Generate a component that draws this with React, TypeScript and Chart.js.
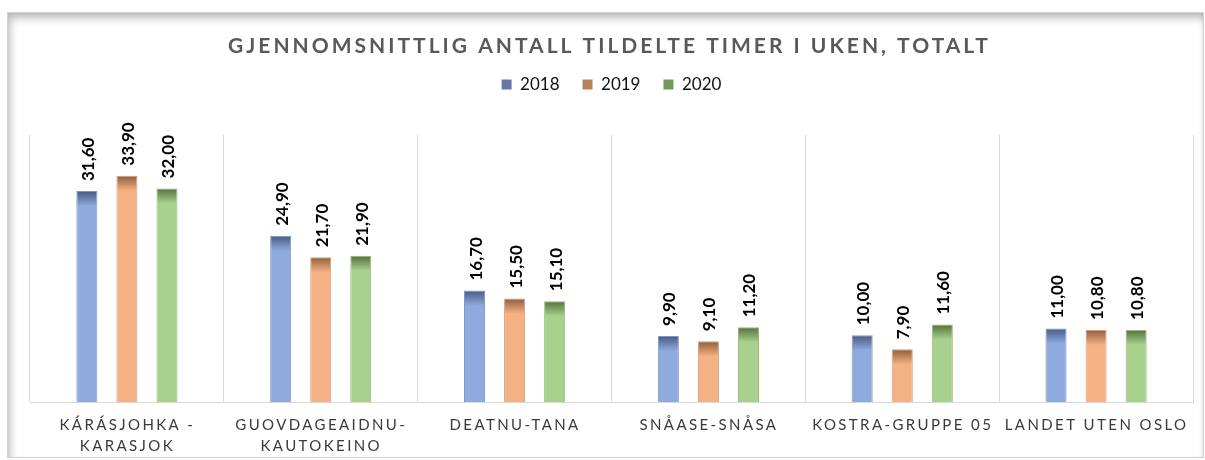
import { useEffect, useRef } from 'react';
import { Chart, registerables } from 'chart.js';

Chart.register(...registerables);

const TITLE = 'GJENNOMSNITTLIG ANTALL TILDELTE TIMER I UKEN, TOTALT';
const categories: string[][] = [
  ['KÁRÁSJOHKA -', 'KARASJOK'],
  ['GUOVDAGEAIDNU-', 'KAUTOKEINO'],
  ['DEATNU-TANA'],
  ['SNÅASE-SNÅSA'],
  ['KOSTRA-GRUPPE 05'],
  ['LANDET UTEN OSLO'],
];
const seriesNames = ['2018', '2019', '2020'];
const values2018 = [31.6, 24.9, 16.7, 9.9, 10.0, 11.0];
const values2019 = [33.9, 21.7, 15.5, 9.1, 7.9, 10.8];
const values2020 = [32.0, 21.9, 15.1, 11.2, 11.6, 10.8];
const yMin = 0;
const yMax = 40;

const bodyColors = ['#8FAADC', '#F4B183', '#A9D18E'];
const topColors = ['#485A82', '#8F5C3D', '#52703C'];
const edgeColors = ['#7E97C4', '#D89E74', '#93B97A'];
const legendColors = ['#6479A6', '#B9805A', '#739A5C'];

const FONT = 'Lato, "Open Sans", sans-serif';

function gradientFor(i: number) {
  return (c: any) => {
    const chart = c.chart;
    if (!chart.chartArea || c.type !== 'data') return bodyColors[i];
    const y = chart.scales.y.getPixelForValue(c.raw);
    const g = chart.ctx.createLinearGradient(0, y, 0, y + 15);
    g.addColorStop(0, topColors[i]);
    g.addColorStop(1, bodyColors[i]);
    return g;
  };
}

const decorPlugin = {
  id: 'decor',
  afterDatasetsDraw(chart: any) {
    const ctx = chart.ctx;
    ctx.save();
    ctx.font = `bold 17px ${FONT}`;
    ctx.fillStyle = '#000000';
    ctx.textAlign = 'left';
    ctx.textBaseline = 'middle';
    chart.data.datasets.forEach((ds: any, di: number) => {
      const meta = chart.getDatasetMeta(di);
      meta.data.forEach((bar: any, i: number) => {
        const v = ds.data[i] as number;
        const txt = v.toFixed(2).replace('.', ',');
        ctx.save();
        ctx.translate(bar.x + 1.5, bar.y - 10);
        ctx.rotate(-Math.PI / 2);
        ctx.fillText(txt, 0, 0);
        ctx.restore();
      });
    });
    ctx.restore();
  },
  afterDraw(chart: any) {
    const ctx = chart.ctx;
    const area = chart.chartArea;
    const xs = chart.scales.x;
    ctx.save();
    // title
    ctx.font = `bold 21px ${FONT}`;
    ctx.fillStyle = '#595959';
    ctx.textAlign = 'center';
    ctx.textBaseline = 'middle';
    (ctx as any).letterSpacing = '3px';
    ctx.fillText(TITLE, (area.left + area.right) / 2 - 2, 46);
    // category labels
    ctx.font = `15px ${FONT}`;
    ctx.fillStyle = '#3a3a3a';
    (ctx as any).letterSpacing = '2.4px';
    categories.forEach((lines, i) => {
      const x = xs.getPixelForValue(i);
      lines.forEach((ln, li) => {
        ctx.fillText(ln, x + 0.5, area.bottom + 23 + li * 21.5);
      });
    });
    ctx.restore();
  },
};

export default function App() {
  const ref = useRef<HTMLCanvasElement | null>(null);
  useEffect(() => {
    if (!ref.current) return;
    const values = [values2018, values2019, values2020];
    const chart = new Chart(ref.current, {
      type: 'bar',
      data: {
        labels: categories.map((c) => c.join(' ')),
        datasets: seriesNames.map((name, i) => ({
          label: name,
          data: values[i],
          backgroundColor: gradientFor(i),
          borderColor: edgeColors[i],
          borderWidth: 1,
          categoryPercentage: 0.62,
          barPercentage: 0.525,
        })),
      },
      options: {
        animation: false,
        responsive: false,
        maintainAspectRatio: false,
        layout: { padding: { left: 30, right: 12, top: 53, bottom: 58 } },
        plugins: {
          title: { display: false },
          tooltip: { enabled: false },
          legend: {
            display: true,
            position: 'top',
            align: 'center',
            labels: {
              boxWidth: 10,
              boxHeight: 10,
              padding: 23,
              color: '#111111',
              font: { family: FONT, size: 17 },
              generateLabels: () =>
                seriesNames.map((name, i) => ({
                  text: name,
                  fillStyle: legendColors[i],
                  strokeStyle: legendColors[i],
                  lineWidth: 0,
                  hidden: false,
                  datasetIndex: i,
                  fontColor: '#111111',
                })),
            },
          },
        },
        scales: {
          x: {
            type: 'category',
            position: 'bottom',
            offset: true,
            grid: { display: true, color: '#D9D9D9', lineWidth: 1, drawTicks: false, offset: true },
            border: { display: true, color: '#D9D9D9', width: 1 },
            ticks: { display: false },
          },
          spacer: {
            type: 'category',
            position: 'top',
            grid: { display: false, drawTicks: false },
            border: { display: false },
            ticks: { display: false },
            afterFit: (s: any) => {
              s.height = 32;
            },
          },
          y: {
            display: false,
            min: yMin,
            max: yMax,
          },
        },
      } as any,
      plugins: [decorPlugin],
    });
    return () => chart.destroy();
  }, []);

  return (
    <div style={{ position: 'fixed', left: 0, top: 0, width: 1205, height: 460, background: '#ffffff' }}>
      <div
        style={{
          position: 'absolute',
          left: 7,
          top: 12,
          width: 1195,
          height: 444,
          border: '1px solid #d2d2d2',
          boxShadow: 'inset 5px 8px 8px -3px rgba(0,0,0,0.28), inset -3px 0 4px -2px rgba(0,0,0,0.12)',
          background: '#ffffff',
        }}
      />
      <canvas ref={ref} width={1205} height={460} style={{ position: 'absolute', left: 0, top: 0, width: 1205, height: 460 }} />
    </div>
  );
}
